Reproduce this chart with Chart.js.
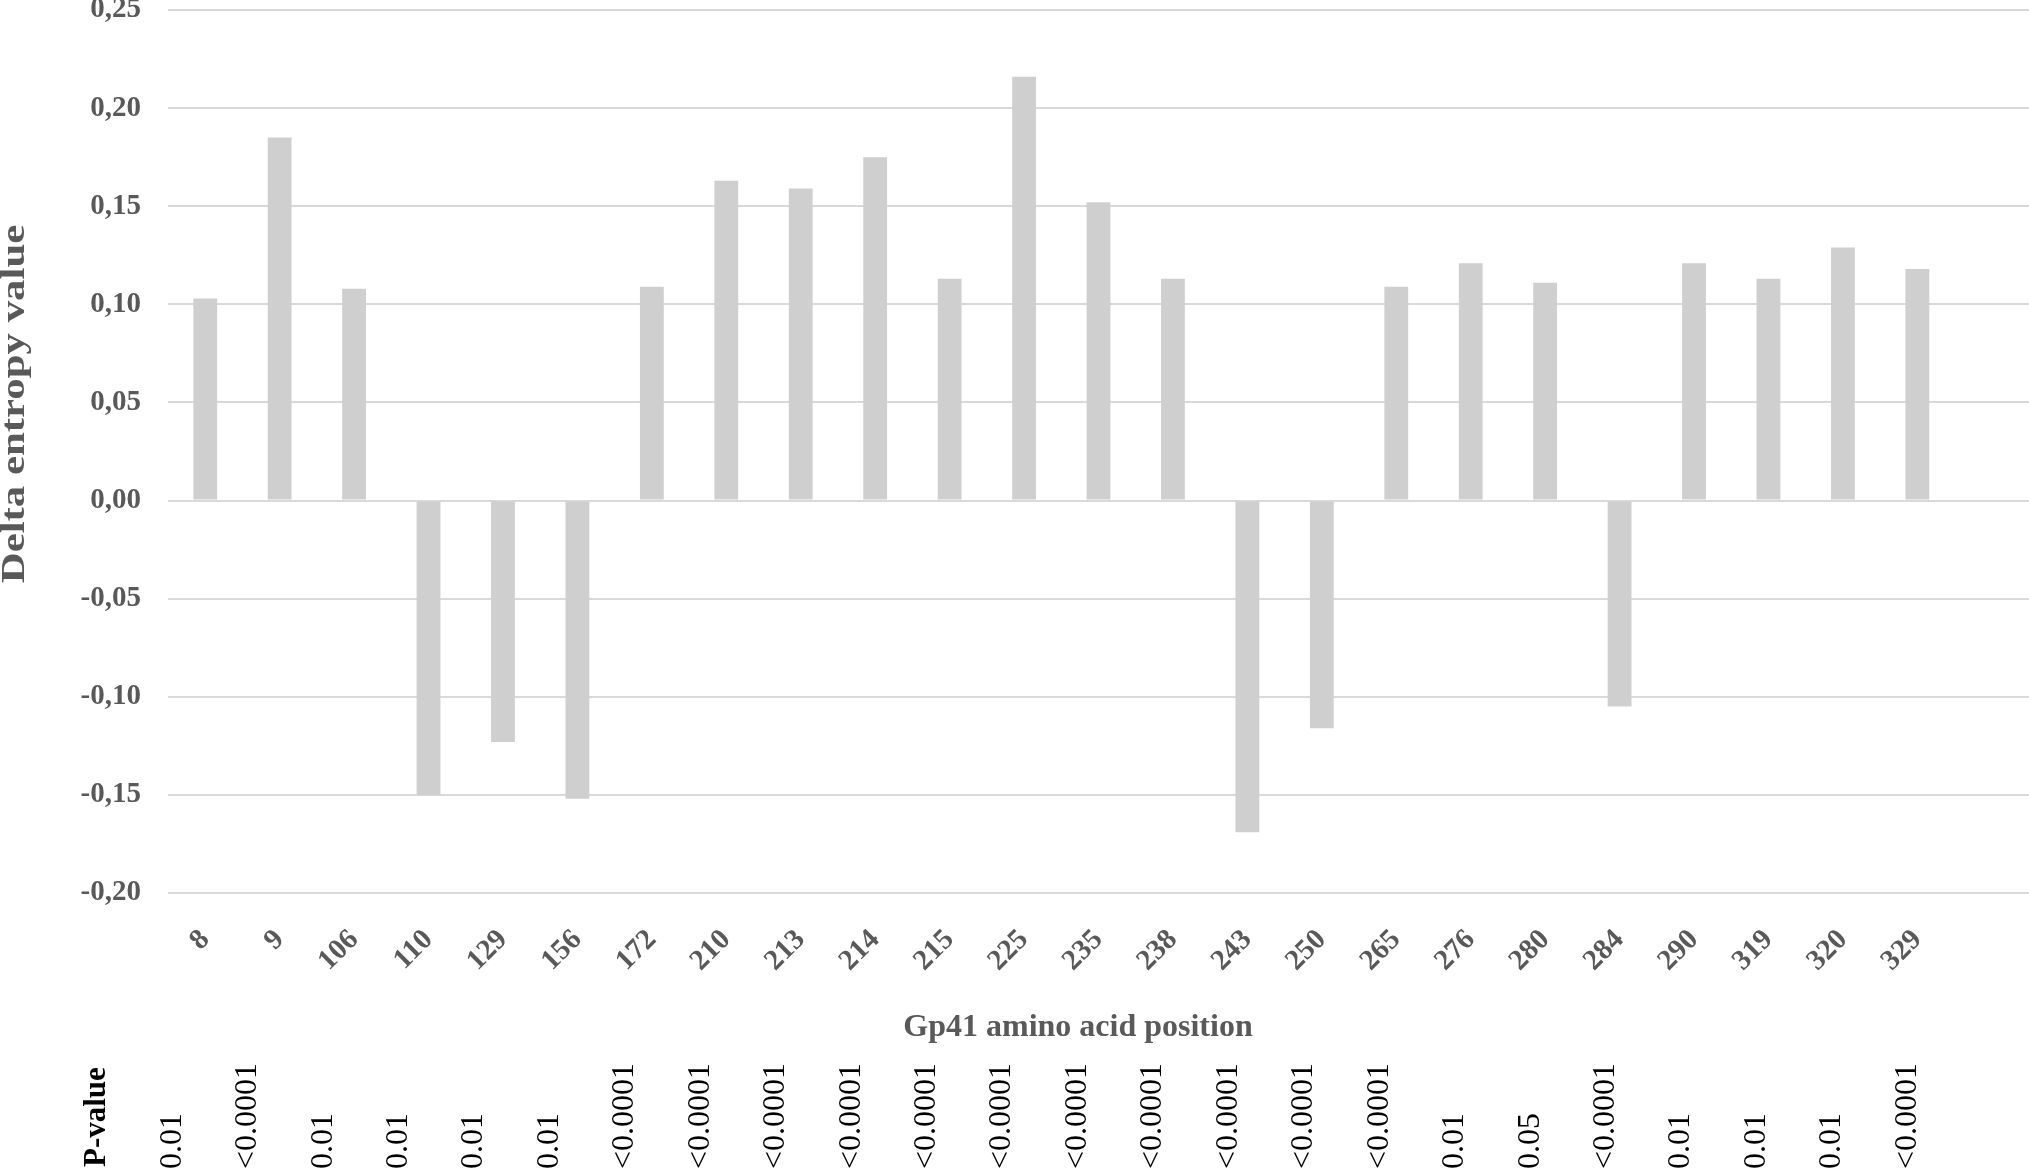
<!DOCTYPE html>
<html>
<head>
<meta charset="utf-8">
<script src="https://cdn.jsdelivr.net/npm/chart.js@4.4.1/dist/chart.umd.min.js"></script>
<style>
  html, body { margin: 0; padding: 0; background: #fff; }
  #wrap { width: 2029px; height: 1168px; position: relative; }
</style>
</head>
<body>
<div id="wrap"><canvas id="chart"></canvas></div>
<script>
// Gp41 positions (the figure keeps one empty slot at the right end)
const positions = ['8', '9', '106', '110', '129', '156', '172', '210', '213', '214', '215', '225',
                   '235', '238', '243', '250', '265', '276', '280', '284', '290', '319', '320', '329', ''];
const deltaEntropy = [0.103, 0.185, 0.108, -0.150, -0.123, -0.152, 0.109, 0.163, 0.159, 0.175, 0.113, 0.216,
                      0.152, 0.113, -0.169, -0.116, 0.109, 0.121, 0.111, -0.105, 0.121, 0.113, 0.129, 0.118, null];
const pValues = ['0.01', '<0.0001', '0.01', '0.01', '0.01', '0.01', '<0.0001', '<0.0001', '<0.0001', '<0.0001',
                 '<0.0001', '<0.0001', '<0.0001', '<0.0001', '<0.0001', '<0.0001', '<0.0001', '0.01', '0.05',
                 '<0.0001', '0.01', '0.01', '0.01', '<0.0001'];
const yMin = -0.2;
const yMax = 0.25;
const yStep = 0.05;

const SERIF = '"Liberation Serif", "Times New Roman", serif';
const GREY = '#595959';

// the p-value row is a little wider spaced than the bars and starts left of them
const pColumnStep = 1.0134;
const pShift = -33;

// titles and the p-value row under the axis
const extraText = {
  id: 'extraText',
  afterDraw(chart) {
    const { ctx, scales: { x } } = chart;
    ctx.save();
    ctx.fillStyle = GREY;
    ctx.font = 'bold 32px ' + SERIF;
    ctx.textAlign = 'center';
    ctx.textBaseline = 'middle';
    ctx.fillText('Gp41 amino acid position', 1078, 1028);

    ctx.save();
    ctx.translate(15, 404);
    ctx.rotate(-Math.PI / 2);
    ctx.scale(1.26, 1);
    ctx.font = 'bold 34px ' + SERIF;
    ctx.fillText('Delta entropy value', 0, 0);
    ctx.restore();

    ctx.fillStyle = '#000';
    ctx.textAlign = 'left';
    ctx.font = 'bold 31px ' + SERIF;
    ctx.save();
    ctx.translate(97, 1167);
    ctx.rotate(-Math.PI / 2);
    ctx.fillText('P-value', 0, 0);
    ctx.restore();

    ctx.font = '32px ' + SERIF;
    pValues.forEach((p, i) => {
      ctx.save();
      ctx.translate(x.getPixelForValue(i * pColumnStep) + pShift, 1169);
      ctx.rotate(-Math.PI / 2);
      ctx.fillText(p, 0, 0);
      ctx.restore();
    });
    ctx.restore();
  }
};

new Chart(document.getElementById('chart'), {
  type: 'bar',
  data: {
    labels: positions,
    datasets: [{
      data: deltaEntropy,
      backgroundColor: '#cfcfcf',
      borderWidth: 0,
      barPercentage: 0.32,
      categoryPercentage: 1
    }]
  },
  options: {
    responsive: true,
    maintainAspectRatio: false,
    animation: false,
    layout: { padding: { top: 10, left: 0, right: 0, bottom: 0 } },
    plugins: { legend: { display: false }, tooltip: { enabled: false } },
    scales: {
      x: {
        grid: { display: false },
        border: { display: false },
        ticks: {
          autoSkip: false,
          minRotation: 45,
          maxRotation: 45,
          padding: 22,
          color: GREY,
          font: { family: SERIF, size: 29, weight: 'bold' }
        },
        afterFit(scale) {
          scale.height = 275;
          // plot runs right to the edge of the picture
          scale.paddingLeft = 0;
          scale.paddingRight = 0;
        }
      },
      y: {
        min: yMin,
        max: yMax,
        grid: { color: '#d9d9d9', lineWidth: 2, drawTicks: true, tickLength: 27, tickColor: 'rgba(0,0,0,0)' },
        border: { display: false },
        ticks: {
          stepSize: yStep,
          padding: 0,
          color: GREY,
          font: { family: SERIF, size: 29, weight: 'bold', lineHeight: 0.6 },
          callback: (v) => v.toFixed(2).replace('.', ',')
        },
        afterFit(scale) { scale.width = 168; }
      }
    }
  },
  plugins: [extraText]
});
</script>
</body>
</html>
